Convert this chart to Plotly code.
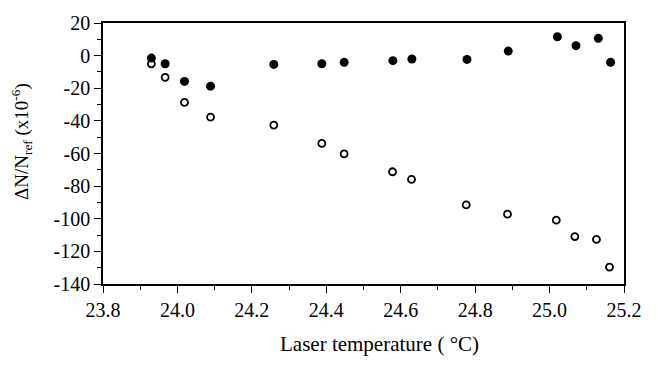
import plotly.graph_objects as go

temp_filled = [23.93, 23.967, 24.019, 24.089, 24.259, 24.388, 24.448, 24.579, 24.630, 24.778, 24.889, 25.021, 25.071, 25.131, 25.164]
val_filled = [-1.5, -5.0, -15.8, -18.7, -5.4, -5.0, -4.1, -3.1, -2.1, -2.3, 2.8, 11.6, 6.1, 10.6, -4.1]

temp_open = [23.93, 23.967, 24.019, 24.089, 24.259, 24.388, 24.448, 24.578, 24.629, 24.776, 24.887, 25.018, 25.068, 25.126, 25.161]
val_open = [-5.0, -13.3, -28.7, -37.7, -42.6, -53.8, -60.2, -71.2, -75.9, -91.5, -97.2, -100.9, -110.9, -112.7, -129.6]

x_ticks = [23.8, 24.0, 24.2, 24.4, 24.6, 24.8, 25.0, 25.2]
x_tick_labels = ["23.8", "24.0", "24.2", "24.4", "24.6", "24.8", "25.0", "25.2"]
y_ticks = [20, 0, -20, -40, -60, -80, -100, -120, -140]
y_tick_labels = ["20", "0", "-20", "-40", "-60", "-80", "-100", "-120", "-140"]

x_title = "Laser temperature ( °C)"
y_title = "ΔN/N<sub>ref</sub> (x10<sup>-6</sup>)"

font = "Times New Roman, Liberation Serif, serif"

fig = go.Figure()
fig.add_trace(go.Scatter(x=temp_open, y=val_open, mode="markers",
                         marker=dict(symbol="circle-open", size=7, color="black",
                                     line=dict(width=1.8, color="black")),
                         showlegend=False))
fig.add_trace(go.Scatter(x=temp_filled, y=val_filled, mode="markers",
                         marker=dict(symbol="circle", size=9, color="black"),
                         showlegend=False))

fig.update_layout(
    width=658, height=369,
    margin=dict(l=103, r=34, t=12, b=85),
    paper_bgcolor="white", plot_bgcolor="white",
    font=dict(family=font, size=20, color="black"),
)
fig.update_xaxes(
    range=[23.8, 25.2], tickvals=x_ticks, ticktext=x_tick_labels,
    showgrid=False, zeroline=False,
    showline=True, linecolor="black", linewidth=1.5, mirror=True,
    ticks="outside", ticklen=7, tickwidth=1.2, tickcolor="black",
    minor=dict(dtick=0.1, ticks="outside", ticklen=4, tickwidth=1, tickcolor="black", showgrid=False),
    tickfont=dict(family=font, size=20),
)
fig.update_yaxes(
    range=[-140, 20], tickvals=y_ticks, ticktext=y_tick_labels,
    showgrid=False, zeroline=False,
    showline=True, linecolor="black", linewidth=1.5, mirror=True,
    ticks="outside", ticklen=7, tickwidth=1.2, tickcolor="black",
    minor=dict(dtick=10, ticks="outside", ticklen=4, tickwidth=1, tickcolor="black", showgrid=False),
    tickfont=dict(family=font, size=20),
)

fig.add_annotation(text=x_title, xref="paper", yref="paper",
                   x=(379 - 103) / 521, y=-(347 - 284) / 272,
                   xanchor="center", yanchor="middle", showarrow=False,
                   font=dict(family=font, size=21, color="black"))
fig.add_annotation(text=y_title, xref="paper", yref="paper",
                   x=-(103 - 22) / 521, y=(284 - 136) / 272, textangle=-90,
                   xanchor="center", yanchor="middle", showarrow=False,
                   font=dict(family=font, size=19, color="black"))

fig.write_html("out.html")
